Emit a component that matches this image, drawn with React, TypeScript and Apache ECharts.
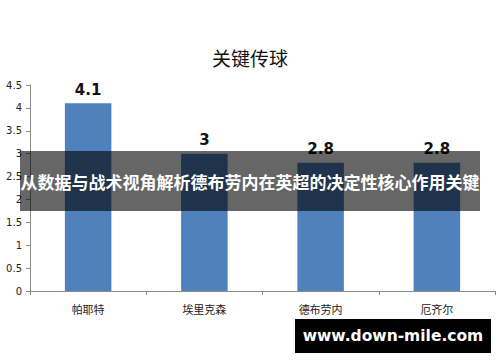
import React, { useEffect, useRef } from "react";
import * as echarts from "echarts";

const categories = ["帕耶特", "埃里克森", "德布劳内", "厄齐尔"];
const values = [4.1, 3, 2.8, 2.8];
const titleText = "关键传球";
const bannerText = "从数据与战术视角解析德布劳内在英超的决定性核心作用关键";
const watermarkText = "www.down-mile.com";

export default function App() {
  const ref = useRef<HTMLDivElement>(null);
  useEffect(() => {
    document.body.style.margin = "0";
    const chart = echarts.init(ref.current!, null, { renderer: "svg" });
    chart.setOption({
      animation: false,
      backgroundColor: "#ffffff",
      title: {
        text: titleText,
        left: "center",
        top: 43,
        textStyle: { fontFamily: "Noto Sans CJK SC", fontSize: 19, fontWeight: "normal", color: "#111" },
      },
      grid: { left: 30, right: 5, top: 85, bottom: 71, containLabel: false },
      xAxis: {
        type: "category",
        data: categories,
        boundaryGap: true,
        axisLine: { lineStyle: { color: "#8c8c8c" } },
        axisTick: { show: true, length: 4, lineStyle: { color: "#8c8c8c" } },
        axisLabel: { margin: 12, fontSize: 11, color: "#222", fontFamily: "Noto Sans CJK SC" },
      },
      yAxis: {
        type: "value",
        min: 0,
        max: 4.5,
        interval: 0.5,
        splitLine: { show: false },
        axisLine: { show: true, lineStyle: { color: "#8c8c8c" } },
        axisTick: { show: true, length: 4, lineStyle: { color: "#8c8c8c" } },
        axisLabel: { margin: 8, fontSize: 10, color: "#222", fontFamily: "DejaVu Sans" },
      },
      series: [
        {
          type: "bar",
          data: values,
          barWidth: "40%",
          itemStyle: { color: "#4f81bd" },
          label: {
            show: true,
            position: "top",
            distance: 6,
            fontSize: 15,
            fontWeight: "bold",
            color: "#111",
            fontFamily: "DejaVu Sans",
          },
        },
      ],
      graphic: [
        {
          type: "rect",
          shape: { x: 20, y: 151, width: 460, height: 60 },
          style: { fill: "rgba(0,0,0,0.6)" },
          z: 100,
        },
        {
          type: "text",
          x: 250,
          y: 181,
          style: {
            text: bannerText,
            fill: "#ffffff",
            font: "bold 17px 'Noto Sans CJK SC'",
            textAlign: "center",
            textVerticalAlign: "middle",
          },
          z: 101,
        },
        {
          type: "rect",
          shape: { x: 295, y: 319, width: 196, height: 34 },
          style: { fill: "#000000" },
          z: 100,
        },
        {
          type: "text",
          x: 393,
          y: 336,
          style: {
            text: watermarkText,
            fill: "#ffffff",
            font: "bold 15.5px 'DejaVu Sans'",
            textAlign: "center",
            textVerticalAlign: "middle",
          },
          z: 101,
        },
      ],
    });
    return () => chart.dispose();
  }, []);
  return <div ref={ref} style={{ width: 500, height: 362 }} />;
}
